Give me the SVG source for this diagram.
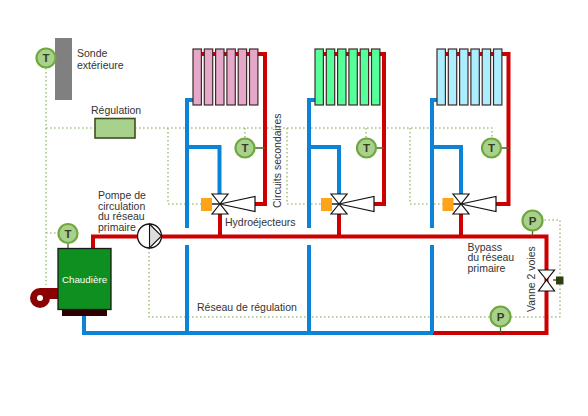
<svg xmlns="http://www.w3.org/2000/svg" width="588" height="416" viewBox="0 0 588 416">
<style>
text{font-family:"Liberation Sans",Arial,sans-serif;font-size:10.5px;fill:#333}
.red{fill:none;stroke:#cc0000;stroke-width:4}
.blue{fill:none;stroke:#0b84d8;stroke-width:4}
.dot{fill:none;stroke:#7fa84f;stroke-width:1.1;stroke-dasharray:1.6 2.4}
.col{stroke:#3f2a2a;stroke-width:1.2}
.sens circle{fill:#a9d18e;stroke:#70a83c;stroke-width:2.200}
.sens text{font-size:11.5px;font-weight:bold;fill:#33401f;text-anchor:middle}
.stem{stroke:#4f6228;stroke-width:1.3;fill:none}
.v{fill:#fff;stroke:#111;stroke-width:1.2}
.org{fill:#ffa31a}
</style>
<defs>
<g id="rad"><rect class="col" x="0" width="8.4" height="56"/><rect class="col" x="11.3" width="8.4" height="56"/><rect class="col" x="22.6" width="8.4" height="56"/><rect class="col" x="33.9" width="8.4" height="56"/><rect class="col" x="45.2" width="8.4" height="56"/><rect class="col" x="56.5" width="8.4" height="56"/></g>
<g id="valve"><path class="v" d="M0 0L-8 -10H8ZM0 0L-8 10H8Z"/><path class="v" d="M0 0L35 -7.5V7.5Z"/><path d="M-8 0H0" stroke="#111" stroke-width="1.4"/></g>
</defs>
<g id="connectors">
<path class="dot" d="M46 68V285M46 233H58M46 128H95M135 128H492V138M168 128V204H201M245 128V138M287 128V204H321M366 128V138M410 128V204H443M149 248V317H490M511 317H560V220H543"/>
<path class="red" d="M93 248V236.500H546.500V333H433"/>
<path class="blue" d="M84 316V333H433"/>
<path class="red" d="M220 214V236M339 214V236M461 214V236"/>
<path class="red" d="M193 54H265V204H255M315 54H384V204H374M437 54H508.500V204H496"/>
<path class="blue" d="M193 100H187V228M187 245V333M187 147H219.500V194"/>
<path class="blue" d="M315 100H309V228M309 245V333M309 147H339V194"/>
<path class="blue" d="M437 100H432V228M432 245V333M432 147H461V194"/>
<path class="stem" d="M254 148H265M375 148H384M501 148H509M68 243V248M532.500 231V236M500.500 327V333M553 280H557"/>
</g>
<g id="sonde"><rect x="55" y="38" width="17" height="62" fill="#808080"/><text x="77" y="57">Sonde</text><text x="77" y="69">extérieure</text></g>
<g id="t-ext" class="sens"><circle cx="46" cy="58" r="9.500"/><text x="46" y="62">T</text></g>
<g id="regulation"><rect x="95" y="118.500" width="40" height="19.500" fill="#a9d18e" stroke="#3f5020" stroke-width="1.600"/><text x="91" y="114">Régulation</text></g>
<g id="radiator-1" fill="#e6a8c8"><use href="#rad" x="193" y="49"/></g>
<g id="radiator-2" fill="#55ff99"><use href="#rad" x="315" y="49"/></g>
<g id="radiator-3" fill="#aaeeff"><use href="#rad" x="437" y="49"/></g>
<g id="t-1" class="sens"><circle cx="245" cy="148" r="9.500"/><text x="245" y="152">T</text></g>
<g id="t-2" class="sens"><circle cx="366.500" cy="148" r="9.500"/><text x="366.500" y="152">T</text></g>
<g id="t-3" class="sens"><circle cx="491.500" cy="148" r="9.500"/><text x="491.500" y="152">T</text></g>
<g id="hydro-1"><use href="#valve" x="220" y="204"/><rect class="org" x="201" y="198" width="11" height="13"/></g>
<g id="hydro-2"><use href="#valve" x="339" y="204"/><rect class="org" x="321" y="198" width="11" height="13"/></g>
<g id="hydro-3"><use href="#valve" x="461" y="204"/><rect class="org" x="442.500" y="198" width="11" height="13"/></g>
<g id="pump"><circle cx="149.500" cy="236" r="12" fill="#fff" stroke="#111" stroke-width="1.300"/><path d="M149.500 224L161.500 236L149.500 248Z" fill="#ddd" stroke="#111" stroke-width="1.100"/></g>
<g id="chaudiere">
<circle cx="40" cy="298" r="10" fill="#8b0000"/><path d="M40 288H58V299H40Z" fill="#8b0000"/><circle cx="40" cy="298" r="3" fill="#fff"/>
<rect x="62" y="309" width="45" height="7" fill="#300000"/>
<rect x="58" y="248.500" width="53" height="61" fill="#0f8f1f" stroke="#1a1a1a" stroke-width="1.300"/>
<text x="84.500" y="283" text-anchor="middle" style="fill:#fff;font-size:9.800px">Chaudière</text></g>
<g id="t-boiler" class="sens"><circle cx="68" cy="233.500" r="9.500"/><text x="68" y="238">T</text></g>
<g id="p-top" class="sens"><circle cx="532.500" cy="220.500" r="10"/><text x="532.500" y="225">P</text></g>
<g id="p-bottom" class="sens"><circle cx="500.500" cy="316.500" r="10"/><text x="500.500" y="321">P</text></g>
<g id="vanne"><path class="v" d="M546.500 280L538.500 270H554.500ZM546.500 280L538.500 291H554.500Z"/><rect x="556" y="276.500" width="7.500" height="8" fill="#2f4010"/><text transform="translate(535 312) rotate(-90)">Vanne 2 voies</text></g>
<g id="labels">
<text x="98" y="199">Pompe de</text><text x="98" y="209.500">circulation</text><text x="98" y="220">du réseau</text><text x="98" y="231">primaire</text>
<text x="225" y="226">Hydroéjecteurs</text>
<text transform="translate(281 208) rotate(-90)">Circuits secondaires</text>
<text x="467.500" y="250.500">Bypass</text><text x="467.500" y="261">du réseau</text><text x="467.500" y="271.500">primaire</text>
<text x="197" y="311">Réseau de régulation</text>
</g>
</svg>
